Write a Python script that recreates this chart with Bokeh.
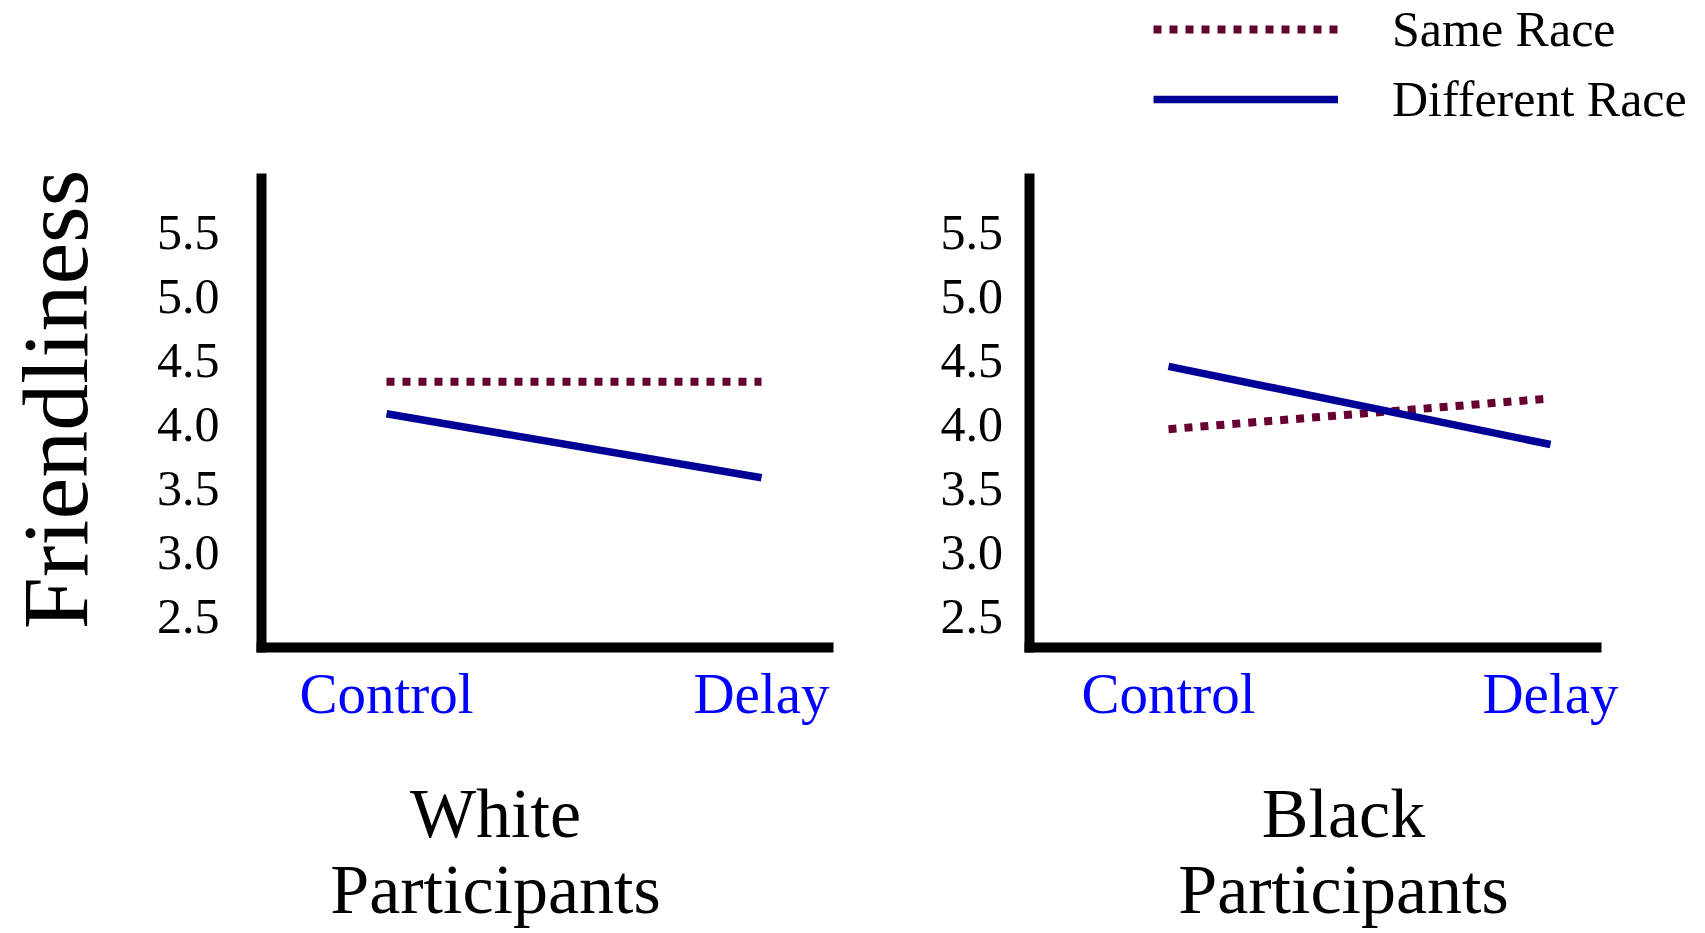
import math
from bokeh.plotting import figure
from bokeh.models import Range1d, FixedTicker, Legend, LegendItem, Label
from bokeh.layouts import row
from bokeh.embed import file_html
from bokeh.resources import INLINE

# ---- data ----
conditions = ["Control", "Delay"]
cond_x = [1, 2]
white_same = [4.33, 4.33]
white_diff = [4.08, 3.58]
black_same = [3.96, 4.20]
black_diff = [4.45, 3.84]
y_ticks = [2.5, 3.0, 3.5, 4.0, 4.5, 5.0, 5.5]
y_tick_labels = ["2.5", "3.0", "3.5", "4.0", "4.5", "5.0", "5.5"]
series_names = ["Same Race", "Different Race"]
group_titles = [["White", "Participants"], ["Black", "Participants"]]
y_label = "Friendliness"

# ---- style ----
SERIF = "Liberation Serif"
SAME_COLOR = "#660033"
DIFF_COLOR = "#000096"
H = 930
Y_RANGE = (0.043, 7.309)     # frame covers the whole canvas
Y_BOUNDS = (2.254, 5.918)    # drawn extent of the y axis


def make_panel(width, xr, x_axis_at, x_bounds_end, same, diff, titles, title_x,
               tick_standoff):
    p = figure(width=width, height=H, output_backend="svg", toolbar_location=None,
               title=None, x_range=Range1d(*xr), y_range=Range1d(*Y_RANGE),
               min_border_left=0, min_border_right=0,
               min_border_top=0, min_border_bottom=0)
    p.outline_line_color = None
    p.grid.visible = False
    p.background_fill_color = "white"
    p.border_fill_color = "white"

    r_same = p.line(cond_x, same, line_color=SAME_COLOR, line_width=8,
                    line_dash="8 8", line_cap="butt")
    r_diff = p.line(cond_x, diff, line_color=DIFF_COLOR, line_width=7.5)

    for ax in (p.xaxis[0], p.yaxis[0]):
        ax.axis_line_width = 10
        ax.axis_line_color = "black"
        ax.axis_line_cap = "square"
        ax.major_tick_line_color = None
        ax.minor_tick_line_color = None
        ax.major_tick_out = 0
        ax.major_tick_in = 0
        ax.major_label_text_font = SERIF
        ax.major_label_text_color = "black"

    yax = p.yaxis[0]
    yax.fixed_location = x_axis_at
    yax.bounds = Y_BOUNDS
    yax.ticker = FixedTicker(ticks=y_ticks)
    yax.major_label_overrides = {t: s for t, s in zip(y_ticks, y_tick_labels)}
    yax.major_label_text_font_size = "50px"
    yax.major_label_standoff = tick_standoff

    xax = p.xaxis[0]
    xax.fixed_location = Y_BOUNDS[0]
    xax.bounds = (x_axis_at, x_bounds_end)
    xax.ticker = FixedTicker(ticks=cond_x)
    xax.major_label_overrides = {x: c for x, c in zip(cond_x, conditions)}
    xax.major_label_text_font_size = "57px"
    xax.major_label_text_color = "#0000ff"
    xax.major_label_standoff = 14

    for txt, ty in zip(titles, [H - 813, H - 889]):
        p.add_layout(Label(x=title_x, y=ty, x_units="screen", y_units="screen",
                           text=txt, text_font=SERIF, text_font_size="70px",
                           text_color="black", text_align="center",
                           text_baseline="middle"))
    return p, r_same, r_diff


# left panel: canvas 0..860 px
p1, _, _ = make_panel(860, (-0.0293, 1.0 + (860 - 386) / 375), 0.6667, 2.1787,
                      white_same, white_diff, group_titles[0], 495, 42)
# right panel: canvas 860..1700 px
p2, rs, rd = make_panel(840, (0.1937, 2.0 + (1700 - 1550) / 382), 0.6374, 2.1204,
                        black_same, black_diff, group_titles[1], 483, 27)

# y-axis title (rotated), left of the first panel's tick labels
p1.add_layout(Label(x=54, y=H - 399, x_units="screen", y_units="screen",
                    text=y_label, angle=math.pi / 2, text_font=SERIF,
                    text_font_size="94px", text_color="black",
                    text_align="center", text_baseline="middle"))

legend = Legend(items=[LegendItem(label=series_names[0], renderers=[rs]),
                       LegendItem(label=series_names[1], renderers=[rd])],
                location=(293, H - 128), orientation="vertical",
                label_text_font=SERIF, label_text_font_size="50px",
                label_text_color="black",
                glyph_width=185, glyph_height=50, label_height=50,
                label_standoff=54, spacing=12, padding=0, margin=0,
                border_line_alpha=0, background_fill_alpha=0)
p2.add_layout(legend, "center")

layout = row(p1, p2)

open("out.html", "w").write(file_html(layout, INLINE))
